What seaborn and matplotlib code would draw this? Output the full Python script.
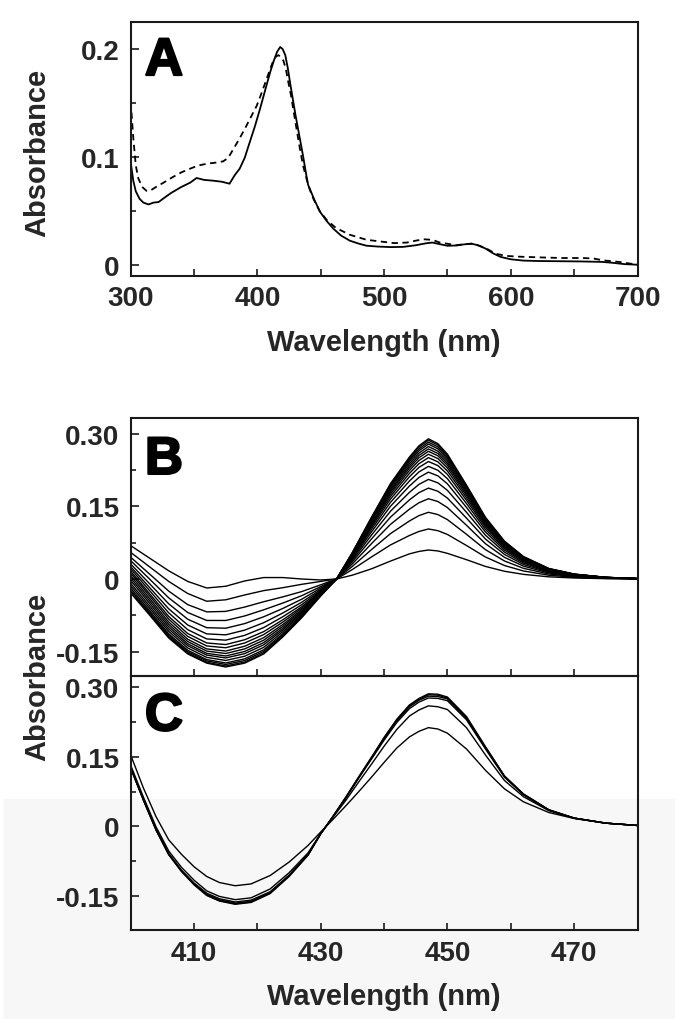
import numpy as np
import pandas as pd
import seaborn as sns
import matplotlib.pyplot as plt
import matplotlib.patheffects as pe
from matplotlib.ticker import FixedLocator, FixedFormatter
from matplotlib.patches import Rectangle

# ---- panel A: absolute spectra (solid / dashed) ----
wl_a_solid = [300, 302, 304, 307, 310, 314, 318, 322, 326, 332, 340, 347, 352, 358, 365, 372,
              378, 382, 386, 390, 394, 398, 402, 406, 410, 413, 415.5, 418, 420, 422, 424, 426,
              428, 430, 433, 436, 438, 440, 445, 449.4, 455, 460, 466, 473, 480, 486, 495, 505,
              515, 525, 533, 538, 544, 550, 557, 563, 569, 574, 580, 586, 592, 600, 610, 622,
              640, 656, 672, 680, 690, 700]
abs_a_solid = [0.095, 0.078, 0.068, 0.061, 0.0575, 0.0558, 0.0575, 0.058, 0.0615, 0.0665, 0.072,
               0.076, 0.0803, 0.0785, 0.0778, 0.0768, 0.075, 0.0827, 0.0889, 0.099, 0.1136, 0.128,
               0.144, 0.161, 0.178, 0.189, 0.197, 0.2016, 0.1995, 0.194, 0.182, 0.167, 0.153,
               0.139, 0.120, 0.101, 0.087, 0.074, 0.060, 0.049, 0.040, 0.0333, 0.027, 0.0222,
               0.0195, 0.0176, 0.0168, 0.0163, 0.0165, 0.018, 0.0198, 0.0205, 0.019, 0.0175,
               0.0178, 0.0188, 0.0195, 0.018, 0.015, 0.0105, 0.0072, 0.005, 0.0038, 0.0034,
               0.0032, 0.003, 0.0026, 0.0018, 0.0005, 0.0]

wl_a_dash = [300, 302, 304, 306, 309, 312.6, 316, 320, 326, 333, 340, 346, 353, 360, 367, 373,
             377, 381, 386, 391.5, 395, 399.4, 403, 407.3, 410, 412.6, 414.5, 416.5, 418.5, 420.5,
             422.5, 424.4, 426.5, 428.3, 431, 433.6, 436, 438.9, 441.5, 444.2, 449, 454.7, 462,
             473, 486, 497, 508, 518, 526, 532, 538, 544, 550, 557, 563, 569, 574, 580, 588, 596,
             605, 622, 640, 656, 665, 673, 686, 700]
abs_a_dash = [0.151, 0.118, 0.092, 0.080, 0.072, 0.0683, 0.069, 0.072, 0.076, 0.081, 0.0855,
              0.0885, 0.0917, 0.0935, 0.0945, 0.0957, 0.099, 0.107, 0.117, 0.129, 0.137, 0.147,
              0.158, 0.172, 0.181, 0.189, 0.1925, 0.194, 0.1925, 0.189, 0.181, 0.169, 0.157,
              0.144, 0.125, 0.107, 0.092, 0.079, 0.069, 0.061, 0.050, 0.0414, 0.034, 0.0277,
              0.0231, 0.0215, 0.020, 0.0205, 0.0225, 0.0235, 0.023, 0.0205, 0.0194, 0.018, 0.019,
              0.0194, 0.018, 0.0155, 0.0102, 0.0082, 0.0075, 0.0068, 0.0062, 0.0062, 0.0058,
              0.004, 0.0025, 0.0]

# ---- panel B: difference spectra, 18 scans ----
wl_b = [400, 403, 406, 409, 412, 415, 418, 421, 424, 427, 430, 432.5, 435, 438, 441, 444, 445.5,
        447, 448.5, 450, 453, 456, 459, 462, 466, 470, 475, 480]
b_scans = [
    [0.069, 0.043, 0.017, -0.005, -0.0186, -0.015, -0.004, 0.003, 0.003, 0.0, -0.002, 0.0, 0.008, 0.021, 0.037, 0.052, 0.057, 0.060, 0.058, 0.053, 0.040, 0.026, 0.016, 0.0096, 0.0045, 0.0021, 0.0007, 0.0002],
    [0.055, 0.025, -0.005, -0.030, -0.046, -0.043, -0.033, -0.024, -0.018, -0.011, -0.005, 0.0, 0.0197, 0.0455, 0.0704, 0.090, 0.0983, 0.1035, 0.0999, 0.0921, 0.0693, 0.0455, 0.0279, 0.0166, 0.0078, 0.0036, 0.0012, 0.0003],
    [0.045, 0.010, -0.025, -0.053, -0.068, -0.067, -0.058, -0.047, -0.037, -0.026, -0.012, 0.0, 0.0262, 0.0607, 0.0938, 0.120, 0.1311, 0.138, 0.1332, 0.1228, 0.0925, 0.0607, 0.0373, 0.0221, 0.0104, 0.0048, 0.0017, 0.0004],
    [0.038, -0.0004, -0.039, -0.0693, -0.0857, -0.0858, -0.0764, -0.0637, -0.0498, -0.0345, -0.0157, 0.0, 0.0315, 0.073, 0.1129, 0.1444, 0.1577, 0.166, 0.1602, 0.1477, 0.1112, 0.073, 0.0448, 0.0266, 0.0125, 0.0058, 0.002, 0.0005],
    [0.031, -0.010, -0.0513, -0.0832, -0.1007, -0.1018, -0.0922, -0.0781, -0.061, -0.0418, -0.0188, 0.0, 0.0357, 0.0827, 0.1278, 0.1636, 0.1786, 0.188, 0.1814, 0.1673, 0.126, 0.0827, 0.0508, 0.0301, 0.0141, 0.0066, 0.0023, 0.0006],
    [0.0255, -0.0179, -0.0617, -0.0951, -0.1135, -0.1155, -0.1057, -0.0903, -0.0704, -0.0481, -0.0215, 0.0, 0.0391, 0.0906, 0.1401, 0.1792, 0.1957, 0.206, 0.1988, 0.1833, 0.138, 0.0906, 0.0556, 0.033, 0.0155, 0.0072, 0.0025, 0.0006],
    [0.021, -0.0243, -0.070, -0.1048, -0.1239, -0.1265, -0.1165, -0.1004, -0.0781, -0.0531, -0.0237, 0.0, 0.042, 0.0972, 0.1503, 0.1923, 0.2100, 0.221, 0.2133, 0.1967, 0.1481, 0.0972, 0.0597, 0.0354, 0.0166, 0.0077, 0.0027, 0.0007],
    [0.016, -0.0306, -0.0774, -0.1128, -0.1323, -0.1356, -0.1256, -0.1088, -0.0845, -0.0574, -0.0255, 0.0, 0.0443, 0.1025, 0.1584, 0.2027, 0.2214, 0.233, 0.2248, 0.2074, 0.1561, 0.1025, 0.0629, 0.0373, 0.0175, 0.0082, 0.0028, 0.0007],
    [0.012, -0.0352, -0.0829, -0.1187, -0.1385, -0.1422, -0.1323, -0.1149, -0.0893, -0.0604, -0.0268, 0.0, 0.0462, 0.1069, 0.1652, 0.2114, 0.2309, 0.243, 0.2345, 0.2163, 0.1628, 0.1069, 0.0656, 0.0389, 0.0182, 0.0085, 0.0029, 0.0007],
    [0.007, -0.0406, -0.0888, -0.1246, -0.1446, -0.149, -0.139, -0.1213, -0.0942, -0.0636, -0.0281, 0.0, 0.0477, 0.1104, 0.1707, 0.2184, 0.2385, 0.251, 0.2422, 0.2234, 0.1682, 0.1104, 0.0678, 0.0402, 0.0188, 0.0088, 0.003, 0.0008],
    [0.002, -0.0456, -0.0938, -0.1293, -0.1491, -0.1541, -0.1445, -0.1265, -0.0981, -0.0662, -0.0291, 0.0, 0.049, 0.1135, 0.1754, 0.2245, 0.2451, 0.258, 0.2490, 0.2296, 0.1729, 0.1135, 0.0697, 0.0413, 0.0194, 0.009, 0.0031, 0.0008],
    [-0.003, -0.0506, -0.0987, -0.1339, -0.1538, -0.1592, -0.1498, -0.1315, -0.1021, -0.0686, -0.0302, 0.0, 0.0502, 0.1162, 0.1795, 0.2297, 0.2508, 0.264, 0.2548, 0.235, 0.1769, 0.1162, 0.0713, 0.0422, 0.0198, 0.0092, 0.0032, 0.0008],
    [-0.009, -0.0559, -0.1035, -0.1379, -0.1574, -0.1633, -0.1543, -0.1361, -0.1055, -0.0708, -0.0312, 0.0, 0.0511, 0.1184, 0.1829, 0.234, 0.2556, 0.269, 0.2596, 0.2394, 0.1802, 0.1184, 0.0726, 0.043, 0.0202, 0.0094, 0.0032, 0.0008],
    [-0.014, -0.0608, -0.1083, -0.1426, -0.1621, -0.1685, -0.1597, -0.1413, -0.1093, -0.0733, -0.0321, 0.0, 0.0521, 0.1206, 0.1863, 0.2384, 0.2603, 0.274, 0.2644, 0.2439, 0.1836, 0.1206, 0.074, 0.0438, 0.0206, 0.0096, 0.0033, 0.0008],
    [-0.019, -0.0656, -0.1133, -0.1474, -0.1667, -0.1737, -0.1651, -0.1463, -0.1133, -0.0759, -0.0332, 0.0, 0.053, 0.1228, 0.1897, 0.2427, 0.2651, 0.279, 0.2692, 0.2483, 0.1869, 0.1228, 0.0753, 0.0446, 0.0209, 0.0098, 0.0033, 0.0008],
    [-0.023, -0.0694, -0.1166, -0.1503, -0.1694, -0.1768, -0.1685, -0.1497, -0.1159, -0.0775, -0.0338, 0.0, 0.0538, 0.1245, 0.1924, 0.2462, 0.2689, 0.283, 0.2731, 0.2519, 0.1896, 0.1245, 0.0764, 0.0453, 0.0212, 0.0099, 0.0034, 0.0008],
    [-0.026, -0.0724, -0.1195, -0.153, -0.1723, -0.1799, -0.1717, -0.1528, -0.1183, -0.079, -0.0346, 0.0, 0.0545, 0.1263, 0.1952, 0.2497, 0.2727, 0.287, 0.2770, 0.2554, 0.1923, 0.1263, 0.0775, 0.0459, 0.0215, 0.01, 0.0034, 0.0009],
    [-0.029, -0.075, -0.122, -0.155, -0.174, -0.182, -0.174, -0.155, -0.12, -0.08, -0.035, 0.0, 0.0551, 0.1276, 0.1972, 0.2523, 0.2755, 0.290, 0.2799, 0.2581, 0.1943, 0.1276, 0.0783, 0.0464, 0.0218, 0.0102, 0.0035, 0.0009],
]

# ---- panel C: difference spectra, 6 scans ----
wl_c = [400, 402, 404, 406, 408, 410, 412, 414, 416.5, 419, 422, 425, 428, 430, 432, 434, 436,
        438, 440, 442, 444, 445.5, 447, 448.5, 450, 453, 456, 459, 462, 466, 470, 475, 480]
c_scans = [
    [0.154, 0.083, 0.021, -0.029, -0.060, -0.087, -0.108, -0.121, -0.128, -0.124, -0.106, -0.077, -0.041, -0.012, 0.016, 0.045, 0.075, 0.106, 0.138, 0.169, 0.193, 0.205, 0.213, 0.210, 0.201, 0.167, 0.121, 0.081, 0.053, 0.030, 0.017, 0.007, 0.002],
    [0.132, 0.0635, -0.001, -0.053, -0.088, -0.116, -0.139, -0.151, -0.158, -0.154, -0.135, -0.100, -0.057, -0.015, 0.021, 0.057, 0.096, 0.134, 0.173, 0.209, 0.238, 0.251, 0.260, 0.258, 0.252, 0.213, 0.154, 0.099, 0.064, 0.034, 0.018, 0.007, 0.002],
    [0.128, 0.058, -0.006, -0.058, -0.094, -0.122, -0.144, -0.156, -0.163, -0.159, -0.141, -0.105, -0.060, -0.0155, 0.022, 0.062, 0.104, 0.145, 0.186, 0.224, 0.254, 0.268, 0.277, 0.276, 0.271, 0.230, 0.167, 0.106, 0.068, 0.035, 0.0175, 0.007, 0.002],
    [0.127, 0.0575, -0.007, -0.060, -0.0955, -0.124, -0.1465, -0.1585, -0.1655, -0.1615, -0.143, -0.1065, -0.061, -0.0158, 0.0227, 0.063, 0.1055, 0.147, 0.189, 0.2275, 0.258, 0.272, 0.281, 0.280, 0.275, 0.2335, 0.1695, 0.1075, 0.069, 0.0355, 0.0178, 0.007, 0.002],
    [0.126, 0.0572, -0.0075, -0.0605, -0.0963, -0.125, -0.148, -0.160, -0.1668, -0.163, -0.144, -0.1072, -0.0616, -0.0159, 0.0228, 0.0636, 0.1063, 0.148, 0.1907, 0.2294, 0.260, 0.274, 0.284, 0.283, 0.277, 0.2353, 0.1708, 0.1082, 0.0695, 0.0357, 0.0179, 0.007, 0.002],
    [0.125, 0.057, -0.008, -0.061, -0.097, -0.126, -0.149, -0.161, -0.168, -0.164, -0.145, -0.108, -0.062, -0.016, 0.023, 0.064, 0.107, 0.149, 0.192, 0.231, 0.262, 0.276, 0.286, 0.285, 0.279, 0.237, 0.172, 0.109, 0.070, 0.036, 0.018, 0.007, 0.002],
]

a_yticks = [0, 0.1, 0.2]
a_yticklabels = ["0", "0.1", "0.2"]
a_xticks = [300, 400, 500, 600, 700]
bc_yticks = [-0.15, 0, 0.15, 0.30]
bc_yticklabels = ["-0.15", "0", "0.15", "0.30"]
bc_xticks = [410, 430, 450, 470]


def long_form(wl, scans):
    rows = []
    for i, s in enumerate(scans):
        for w, v in zip(wl, s):
            rows.append((i, w, v))
    return pd.DataFrame(rows, columns=["scan", "wl", "absorb"])


sns.set_theme(style="ticks")
plt.rcParams['font.family'] = ['Liberation Sans', 'DejaVu Sans']
plt.rcParams['font.weight'] = 'bold'
plt.rcParams['axes.linewidth'] = 1.5
plt.rcParams['axes.edgecolor'] = '#1a1a1a'

W, H = 675, 1020
fig = plt.figure(figsize=(W / 100, H / 100), dpi=100)
fig.patches.append(Rectangle((4 / W, 0), 1, 220 / H, transform=fig.transFigure,
                             color='#f7f7f7', zorder=-5))

left, right = 130.7, 637.5
axA = fig.add_axes([left / W, 1 - 276.5 / H, (right - left) / W, (276.5 - 22.7) / H])
axB = fig.add_axes([left / W, 1 - 676.7 / H, (right - left) / W, (676.7 - 419) / H])
axC = fig.add_axes([left / W, 1 - 930.8 / H, (right - left) / W, (930.8 - 676.7) / H])
axC.set_facecolor('none')

sns.lineplot(x=wl_a_solid, y=abs_a_solid, ax=axA, color='black', lw=1.3, estimator=None, sort=False)
sns.lineplot(x=wl_a_dash, y=abs_a_dash, ax=axA, color='black', lw=1.3, estimator=None, sort=False,
             linestyle=(0, (3.5, 2.5)))

sns.lineplot(data=long_form(wl_b, b_scans), x="wl", y="absorb", units="scan", estimator=None,
             color='black', lw=1.0, ax=axB, legend=False)
sns.lineplot(data=long_form(wl_c, c_scans), x="wl", y="absorb", units="scan", estimator=None,
             color='black', lw=1.0, ax=axC, legend=False)

for ax in (axA, axB, axC):
    ax.set_xlabel('')
    ax.set_ylabel('')
    ax.tick_params(which='major', length=5.4, width=1.2, labelsize=20, direction='in',
                   color='#1a1a1a')
    ax.tick_params(which='minor', length=3.3, width=1.2, direction='in', color='#1a1a1a')
    ax.tick_params(axis='y', pad=8)
    ax.tick_params(axis='x', pad=7)

# panel A axes
axA.set_xlim(300, 700)
axA.set_ylim(-0.01, 0.225)
axA.xaxis.set_major_locator(FixedLocator(a_xticks))
axA.xaxis.set_major_formatter(FixedFormatter([str(t) for t in a_xticks]))
axA.xaxis.set_minor_locator(FixedLocator([350, 450, 550, 650]))
axA.tick_params(axis='x', which='minor', length=5.4)
axA.yaxis.set_major_locator(FixedLocator(a_yticks))
axA.yaxis.set_major_formatter(FixedFormatter(a_yticklabels))
axA.yaxis.set_minor_locator(FixedLocator([0.05, 0.15]))
axA.set_xlabel('Wavelength (nm)', fontsize=21, fontweight='bold', labelpad=12)

# panels B and C
for ax, ylim in ((axB, (-0.2, 0.333)), (axC, (-0.223, 0.325))):
    ax.set_xlim(400, 480)
    ax.set_ylim(*ylim)
    ax.xaxis.set_major_locator(FixedLocator(bc_xticks))
    ax.xaxis.set_major_formatter(FixedFormatter([str(t) for t in bc_xticks]))
    ax.xaxis.set_minor_locator(FixedLocator([420, 440, 460]))
    ax.tick_params(axis='x', which='minor', length=5.4)
    ax.yaxis.set_major_locator(FixedLocator(bc_yticks))
    ax.yaxis.set_major_formatter(FixedFormatter(bc_yticklabels))
    ax.yaxis.set_minor_locator(FixedLocator([-0.075, 0.075, 0.225]))
axB.tick_params(axis='x', labelbottom=False)
axC.set_xlabel('Wavelength (nm)', fontsize=21, fontweight='bold', labelpad=12)

for ax in (axA, axB, axC):
    for lab in ax.get_xticklabels() + ax.get_yticklabels():
        lab.set_fontweight('bold')

# panel letters
for ax, letter, yb in ((axA, 'A', 0.79), (axB, 'B', 0.783), (axC, 'C', 0.785)):
    ax.text(0.028, yb, letter, transform=ax.transAxes, fontsize=38, fontweight='bold',
            ha='left', va='baseline', color='black',
            path_effects=[pe.withStroke(linewidth=1.6, foreground='black')])

# y labels
fig.text(37 / W, 1 - 153 / H, 'Absorbance', rotation=90, ha='center', va='center',
         fontsize=21, fontweight='bold')
fig.text(37 / W, 1 - 676.5 / H, 'Absorbance', rotation=90, ha='center', va='center',
         fontsize=21, fontweight='bold')

fig.savefig('out.png', dpi=100)
